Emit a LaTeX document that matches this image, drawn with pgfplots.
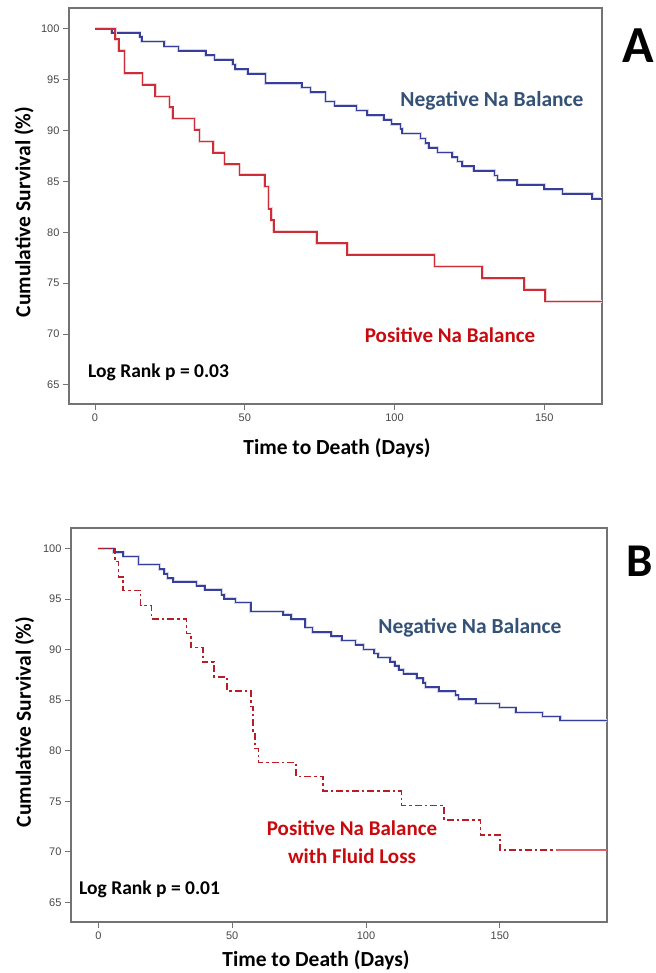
\documentclass[border=0pt]{standalone}
\usepackage{fontspec}
\setmainfont{Carlito}
\newfontfamily\tickfont{Liberation Sans}
\usepackage{pgfplots}
\pgfplotsset{compat=1.18}

\definecolor{kmblue}{RGB}{55,62,155}
\definecolor{kmred}{RGB}{205,45,55}
\definecolor{kmreddash}{RGB}{185,30,40}
\definecolor{negtext}{RGB}{52,82,118}
\definecolor{postext}{RGB}{200,10,15}
\definecolor{boxgray}{RGB}{115,115,115}
\definecolor{tickgray}{RGB}{70,70,70}

\pgfplotsset{
  km/.style={
    scale only axis,
    axis line style={draw=boxgray, line width=1.2pt},
    tick pos=left,
    tick align=outside,
    major tick length=6pt,
    tick style={draw=boxgray, line width=1pt},
    xtick={0,50,100,150},
    ytick={65,70,...,100},
    ticklabel style={font=\tickfont\fontsize{11}{11}\selectfont, text=tickgray},
    /pgf/number format/assume math mode=true,
  },
  negline/.style={const plot, kmblue, line width=1.6pt,
    preaction={draw, kmblue!22, line width=3pt}},
  posline/.style={const plot, kmred, line width=1.6pt,
    preaction={draw, kmred!22, line width=3pt}},
}

\begin{document}
\begin{tikzpicture}[x=1pt,y=1pt]
\path[use as bounding box] (0,0) rectangle (655,973);

% ---------- panel A ----------
\begin{axis}[km, at={(69pt,569pt)}, anchor=south west,
  width=533pt, height=396pt,
  xmin=-8.7, xmax=169.3, ymin=63.13, ymax=102.05]
\addplot[negline] coordinates {
 (0,100) (5.6,99.62) (15.0,99.2) (15.6,98.76) (23.1,98.28) (27.9,97.84)
 (37.0,97.41) (39.9,96.95) (46.0,96.5) (46.8,96.04) (51.0,95.58) (56.9,94.66)
 (69.1,94.22) (72.0,93.78) (77.0,92.86) (79.9,92.43) (87.3,91.98) (90.9,91.52)
 (96.4,91.06) (99.0,90.62) (102.0,90.16) (102.6,89.7) (108.7,89.24) (110.4,88.78)
 (111.5,88.3) (114.3,87.85) (119.3,87.4) (121.0,86.96) (122.6,86.5) (126.5,86.05)
 (133.4,85.6) (134.4,85.14) (141.0,84.68) (150.0,84.24) (156.1,83.78) (166.0,83.3)
 (169.3,83.3)
};
\addplot[posline] coordinates {
 (0,100) (6.7,99.0) (7.9,97.84) (9.8,95.66) (15.9,94.5) (20.1,93.35)
 (24.9,92.3) (26.0,91.2) (33.2,90.08) (34.9,88.93) (39.4,87.8) (43.2,86.7)
 (48.3,85.66) (56.7,84.5) (57.9,82.3) (58.8,81.2) (59.7,80.05) (74.1,78.93)
 (84.2,77.8) (113.4,76.65) (129.3,75.5) (143.3,74.35) (150.3,73.2) (169.3,73.2)
};
\end{axis}

\node[font=\bfseries\fontsize{21.5}{22}\selectfont, rotate=90] at (24,761) {Cumulative Survival (\%)};
\node[font=\bfseries\fontsize{21.5}{22}\selectfont] at (337,525) {Time to Death (Days)};
\node[font=\bfseries\fontsize{21.5}{22}\selectfont, text=negtext] at (492,872) {Negative Na Balance};
\node[font=\bfseries\fontsize{21}{22}\selectfont, text=postext] at (450,638) {Positive Na Balance};
\node[font=\bfseries\fontsize{19.5}{22}\selectfont, anchor=west, inner sep=0pt] at (88,601) {Log Rank p = 0.03};
\node[font=\bfseries\fontsize{52}{52}\selectfont] at (638,927) {A};

% ---------- panel B ----------
\begin{axis}[km, at={(71pt,51pt)}, anchor=south west,
  width=536pt, height=394pt,
  xmin=-10.2, xmax=190, ymin=63.08, ymax=102.02]
\addplot[negline] coordinates {
 (0,100) (5.6,99.64) (9.3,99.2) (15.0,98.4) (22.8,97.96) (24.6,97.5)
 (25.8,97.06) (28.0,96.7) (36.7,96.3) (39.8,95.9) (46.0,95.4) (47.0,95.03)
 (51.2,94.66) (57.0,93.78) (69.0,93.43) (72.0,93.0) (77.3,92.18) (80.0,91.72)
 (87.0,91.34) (91.0,90.9) (96.0,90.46) (99.0,90.02) (103.0,89.6) (104.5,89.22)
 (109.0,88.8) (110.8,88.4) (112.3,88.0) (114.0,87.6) (119.0,87.17) (121.3,86.72)
 (122.2,86.3) (127.2,85.9) (133.4,85.5) (134.5,85.1) (141.0,84.68) (149.8,84.26)
 (156.0,83.77) (165.9,83.37) (172.5,82.98) (190,82.98)
};
\addplot[const plot, kmreddash, line width=1.6pt,
  dash pattern={on 7pt off 3pt on 2.5pt off 3pt}] coordinates {
 (0,100) (6.2,98.7) (7.5,97.2) (9.3,95.85) (15.8,94.35) (19.8,93.03)
 (33.0,91.6) (34.6,90.2) (39.0,88.75) (43.2,87.3) (48.1,85.93) (57.0,84.36)
 (57.8,81.7) (58.6,80.24) (59.8,78.85) (73.8,77.45) (84.0,76.05) (113.2,74.6)
 (129.1,73.15) (142.8,71.68) (150.1,70.17) (171,70.17)
};
\addplot[kmred!75, line width=1.6pt] coordinates {(171,70.17) (190,70.17)};
\end{axis}

\node[font=\bfseries\fontsize{21.5}{22}\selectfont, rotate=90] at (24.6,251) {Cumulative Survival (\%)};
\node[font=\bfseries\fontsize{21.5}{22}\selectfont] at (316,13) {Time to Death (Days)};
\node[font=\bfseries\fontsize{21.5}{22}\selectfont, text=negtext] at (470,345) {Negative Na Balance};
\node[font=\bfseries\fontsize{21}{22}\selectfont, text=postext, align=center] at (352,131) {Positive Na Balance\\[6pt]with Fluid Loss};
\node[font=\bfseries\fontsize{19.5}{22}\selectfont, anchor=west, inner sep=0pt] at (79,84) {Log Rank p = 0.01};
\node[font=\bfseries\fontsize{47}{47}\selectfont] at (640,412) {B};
\end{tikzpicture}
\end{document}
